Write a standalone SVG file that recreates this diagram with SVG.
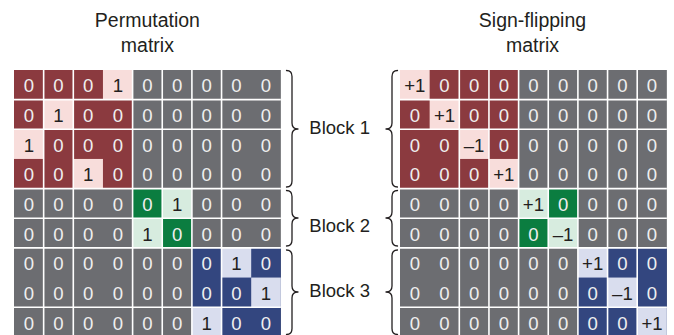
<svg xmlns="http://www.w3.org/2000/svg" width="674" height="335" viewBox="0 0 674 335">
<style>
.t{font-family:"Liberation Sans",Arial,Helvetica,sans-serif;font-size:18.6px;text-anchor:middle;fill:#EFEFEF}
.k{fill:#231F20}
.ttl{font-family:"Liberation Sans",Arial,Helvetica,sans-serif;font-size:19.5px;text-anchor:middle;fill:#231F20}
.blk{font-family:"Liberation Sans",Arial,Helvetica,sans-serif;font-size:18.5px;text-anchor:middle;fill:#231F20}
.br{fill:none;stroke:#231F20;stroke-width:1.3;stroke-linecap:round;stroke-linejoin:round}
.gl{stroke:#FFFFFF;stroke-width:1.6}
.gray{fill:#6C6D71}.red{fill:#8B3A3F}.pink{fill:#F8DDDB}.dg{fill:#0B7D40}.lg{fill:#D7ECDF}.db{fill:#33467F}.lb{fill:#D9DDEE}
</style>
<rect width="674" height="335" fill="#FFFFFF"/>
<g id="title-permutation">
<text class="ttl" x="147.4" y="26.7">Permutation</text>
<text class="ttl" x="147.4" y="51.7">matrix</text>
</g>
<g id="title-sign-flipping">
<text class="ttl" x="532.5" y="26.7">Sign-flipping</text>
<text class="ttl" x="532.5" y="51.7">matrix</text>
</g>
<g id="permutation-matrix" transform="translate(14,70)">
<rect class="gray" x="0" y="0" width="266.85" height="266.85"/>
<rect class="red" x="0" y="0" width="118.6" height="118.6"/>
<rect class="dg" x="118.6" y="118.6" width="59.3" height="59.3"/>
<rect class="db" x="177.9" y="177.9" width="88.95" height="88.95"/>
<rect class="pink" x="88.95" y="0" width="29.65" height="29.65"/>
<rect class="pink" x="29.65" y="29.65" width="29.65" height="29.65"/>
<rect class="pink" x="0" y="59.3" width="29.65" height="29.65"/>
<rect class="pink" x="59.3" y="88.95" width="29.65" height="29.65"/>
<rect class="lg" x="148.25" y="118.6" width="29.65" height="29.65"/>
<rect class="lg" x="118.6" y="148.25" width="29.65" height="29.65"/>
<rect class="lb" x="207.55" y="177.9" width="29.65" height="29.65"/>
<rect class="lb" x="237.2" y="207.55" width="29.65" height="29.65"/>
<rect class="lb" x="177.9" y="237.2" width="29.65" height="29.65"/>
<g class="gl">
<line x1="29.65" y1="0" x2="29.65" y2="267"/>
<line x1="59.3" y1="0" x2="59.3" y2="267"/>
<line x1="118.6" y1="0" x2="118.6" y2="267"/>
<line x1="148.25" y1="0" x2="148.25" y2="267"/>
<line x1="177.9" y1="0" x2="177.9" y2="267"/>
<line x1="207.55" y1="0" x2="207.55" y2="267"/>
<line x1="0" y1="29.65" x2="266.85" y2="29.65"/>
<line x1="0" y1="59.3" x2="266.85" y2="59.3"/>
<line x1="0" y1="118.6" x2="266.85" y2="118.6"/>
<line x1="0" y1="148.25" x2="266.85" y2="148.25"/>
<line x1="0" y1="177.9" x2="266.85" y2="177.9"/>
<line x1="0" y1="237.2" x2="266.85" y2="237.2"/>
</g>
<g transform="translate(0,22.3)"><text class="t" x="14.8">0</text><text class="t" x="44.5">0</text><text class="t" x="74.1">0</text><text class="t k" x="103.8">1</text><text class="t" x="133.4">0</text><text class="t" x="163.1">0</text><text class="t" x="192.7">0</text><text class="t" x="222.4">0</text><text class="t" x="252">0</text></g>
<g transform="translate(0,52)"><text class="t" x="14.8">0</text><text class="t k" x="44.5">1</text><text class="t" x="74.1">0</text><text class="t" x="103.8">0</text><text class="t" x="133.4">0</text><text class="t" x="163.1">0</text><text class="t" x="192.7">0</text><text class="t" x="222.4">0</text><text class="t" x="252">0</text></g>
<g transform="translate(0,81.6)"><text class="t k" x="14.8">1</text><text class="t" x="44.5">0</text><text class="t" x="74.1">0</text><text class="t" x="103.8">0</text><text class="t" x="133.4">0</text><text class="t" x="163.1">0</text><text class="t" x="192.7">0</text><text class="t" x="222.4">0</text><text class="t" x="252">0</text></g>
<g transform="translate(0,111.3)"><text class="t" x="14.8">0</text><text class="t" x="44.5">0</text><text class="t k" x="74.1">1</text><text class="t" x="103.8">0</text><text class="t" x="133.4">0</text><text class="t" x="163.1">0</text><text class="t" x="192.7">0</text><text class="t" x="222.4">0</text><text class="t" x="252">0</text></g>
<g transform="translate(0,140.9)"><text class="t" x="14.8">0</text><text class="t" x="44.5">0</text><text class="t" x="74.1">0</text><text class="t" x="103.8">0</text><text class="t" x="133.4">0</text><text class="t k" x="163.1">1</text><text class="t" x="192.7">0</text><text class="t" x="222.4">0</text><text class="t" x="252">0</text></g>
<g transform="translate(0,170.6)"><text class="t" x="14.8">0</text><text class="t" x="44.5">0</text><text class="t" x="74.1">0</text><text class="t" x="103.8">0</text><text class="t k" x="133.4">1</text><text class="t" x="163.1">0</text><text class="t" x="192.7">0</text><text class="t" x="222.4">0</text><text class="t" x="252">0</text></g>
<g transform="translate(0,200.2)"><text class="t" x="14.8">0</text><text class="t" x="44.5">0</text><text class="t" x="74.1">0</text><text class="t" x="103.8">0</text><text class="t" x="133.4">0</text><text class="t" x="163.1">0</text><text class="t" x="192.7">0</text><text class="t k" x="222.4">1</text><text class="t" x="252">0</text></g>
<g transform="translate(0,229.9)"><text class="t" x="14.8">0</text><text class="t" x="44.5">0</text><text class="t" x="74.1">0</text><text class="t" x="103.8">0</text><text class="t" x="133.4">0</text><text class="t" x="163.1">0</text><text class="t" x="192.7">0</text><text class="t" x="222.4">0</text><text class="t k" x="252">1</text></g>
<g transform="translate(0,259.5)"><text class="t" x="14.8">0</text><text class="t" x="44.5">0</text><text class="t" x="74.1">0</text><text class="t" x="103.8">0</text><text class="t" x="133.4">0</text><text class="t" x="163.1">0</text><text class="t k" x="192.7">1</text><text class="t" x="222.4">0</text><text class="t" x="252">0</text></g>
</g>
<g id="sign-flipping-matrix" transform="translate(400,70)">
<rect class="gray" x="0" y="0" width="266.85" height="266.85"/>
<rect class="red" x="0" y="0" width="118.6" height="118.6"/>
<rect class="dg" x="118.6" y="118.6" width="59.3" height="59.3"/>
<rect class="db" x="177.9" y="177.9" width="88.95" height="88.95"/>
<rect class="pink" x="0" y="0" width="29.65" height="29.65"/>
<rect class="pink" x="29.65" y="29.65" width="29.65" height="29.65"/>
<rect class="pink" x="59.3" y="59.3" width="29.65" height="29.65"/>
<rect class="pink" x="88.95" y="88.95" width="29.65" height="29.65"/>
<rect class="lg" x="118.6" y="118.6" width="29.65" height="29.65"/>
<rect class="lg" x="148.25" y="148.25" width="29.65" height="29.65"/>
<rect class="lb" x="177.9" y="177.9" width="29.65" height="29.65"/>
<rect class="lb" x="207.55" y="207.55" width="29.65" height="29.65"/>
<rect class="lb" x="237.2" y="237.2" width="29.65" height="29.65"/>
<g class="gl">
<line x1="59.3" y1="0" x2="59.3" y2="267"/>
<line x1="88.95" y1="0" x2="88.95" y2="267"/>
<line x1="118.6" y1="0" x2="118.6" y2="267"/>
<line x1="148.25" y1="0" x2="148.25" y2="267"/>
<line x1="177.9" y1="0" x2="177.9" y2="267"/>
<line x1="207.55" y1="0" x2="207.55" y2="267"/>
<line x1="237.2" y1="0" x2="237.2" y2="267"/>
<line x1="0" y1="29.65" x2="266.85" y2="29.65"/>
<line x1="0" y1="59.3" x2="266.85" y2="59.3"/>
<line x1="0" y1="118.6" x2="266.85" y2="118.6"/>
<line x1="0" y1="148.25" x2="266.85" y2="148.25"/>
<line x1="0" y1="177.9" x2="266.85" y2="177.9"/>
<line x1="0" y1="237.2" x2="266.85" y2="237.2"/>
</g>
<g transform="translate(0,22.3)"><text class="t k" x="14.8">+1</text><text class="t" x="44.5">0</text><text class="t" x="74.1">0</text><text class="t" x="103.8">0</text><text class="t" x="133.4">0</text><text class="t" x="163.1">0</text><text class="t" x="192.7">0</text><text class="t" x="222.4">0</text><text class="t" x="252">0</text></g>
<g transform="translate(0,52)"><text class="t" x="14.8">0</text><text class="t k" x="44.5">+1</text><text class="t" x="74.1">0</text><text class="t" x="103.8">0</text><text class="t" x="133.4">0</text><text class="t" x="163.1">0</text><text class="t" x="192.7">0</text><text class="t" x="222.4">0</text><text class="t" x="252">0</text></g>
<g transform="translate(0,81.6)"><text class="t" x="14.8">0</text><text class="t" x="44.5">0</text><text class="t k" x="74.1">–1</text><text class="t" x="103.8">0</text><text class="t" x="133.4">0</text><text class="t" x="163.1">0</text><text class="t" x="192.7">0</text><text class="t" x="222.4">0</text><text class="t" x="252">0</text></g>
<g transform="translate(0,111.3)"><text class="t" x="14.8">0</text><text class="t" x="44.5">0</text><text class="t" x="74.1">0</text><text class="t k" x="103.8">+1</text><text class="t" x="133.4">0</text><text class="t" x="163.1">0</text><text class="t" x="192.7">0</text><text class="t" x="222.4">0</text><text class="t" x="252">0</text></g>
<g transform="translate(0,140.9)"><text class="t" x="14.8">0</text><text class="t" x="44.5">0</text><text class="t" x="74.1">0</text><text class="t" x="103.8">0</text><text class="t k" x="133.4">+1</text><text class="t" x="163.1">0</text><text class="t" x="192.7">0</text><text class="t" x="222.4">0</text><text class="t" x="252">0</text></g>
<g transform="translate(0,170.6)"><text class="t" x="14.8">0</text><text class="t" x="44.5">0</text><text class="t" x="74.1">0</text><text class="t" x="103.8">0</text><text class="t" x="133.4">0</text><text class="t k" x="163.1">–1</text><text class="t" x="192.7">0</text><text class="t" x="222.4">0</text><text class="t" x="252">0</text></g>
<g transform="translate(0,200.2)"><text class="t" x="14.8">0</text><text class="t" x="44.5">0</text><text class="t" x="74.1">0</text><text class="t" x="103.8">0</text><text class="t" x="133.4">0</text><text class="t" x="163.1">0</text><text class="t k" x="192.7">+1</text><text class="t" x="222.4">0</text><text class="t" x="252">0</text></g>
<g transform="translate(0,229.9)"><text class="t" x="14.8">0</text><text class="t" x="44.5">0</text><text class="t" x="74.1">0</text><text class="t" x="103.8">0</text><text class="t" x="133.4">0</text><text class="t" x="163.1">0</text><text class="t" x="192.7">0</text><text class="t k" x="222.4">–1</text><text class="t" x="252">0</text></g>
<g transform="translate(0,259.5)"><text class="t" x="14.8">0</text><text class="t" x="44.5">0</text><text class="t" x="74.1">0</text><text class="t" x="103.8">0</text><text class="t" x="133.4">0</text><text class="t" x="163.1">0</text><text class="t" x="192.7">0</text><text class="t" x="222.4">0</text><text class="t k" x="252">+1</text></g>
</g>
<g id="block-labels">
<text class="blk" x="339.7" y="134">Block 1</text>
<text class="blk" x="339.7" y="231.7">Block 2</text>
<text class="blk" x="339.7" y="297.3">Block 3</text>
</g>
<g id="braces">
<path class="br" d="M286.5,70.5 Q292,70.5 292,76.5 L292,123 Q292,129 298,129 Q292,129 292,135 L292,181 Q292,187 286.5,187"/>
<path class="br" d="M286.5,190.5 Q292,190.5 292,196.5 L292,212 Q292,218 298,218 Q292,218 292,224 L292,240 Q292,246 286.5,246"/>
<path class="br" d="M286.5,250 Q292,250 292,256 L292,286 Q292,292 298,292 Q292,292 292,298 L292,328.5 Q292,334.5 286.5,334.5"/>
<path class="br" d="M397.5,70.5 Q392,70.5 392,76.5 L392,123 Q392,129 386,129 Q392,129 392,135 L392,181 Q392,187 397.5,187"/>
<path class="br" d="M397.5,190.5 Q392,190.5 392,196.5 L392,212 Q392,218 386,218 Q392,218 392,224 L392,240 Q392,246 397.5,246"/>
<path class="br" d="M397.5,250 Q392,250 392,256 L392,286 Q392,292 386,292 Q392,292 392,298 L392,328.5 Q392,334.5 397.5,334.5"/>
</g>
</svg>
